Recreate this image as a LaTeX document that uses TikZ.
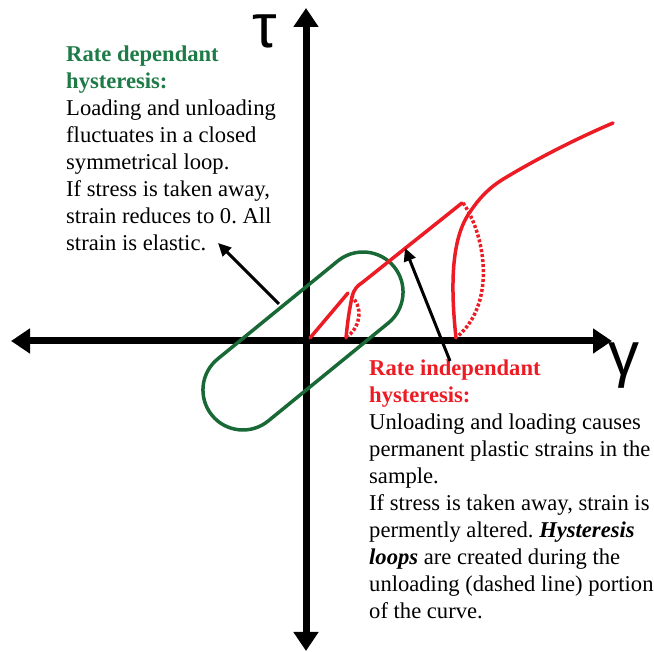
\documentclass[tikz,border=0pt]{standalone}
\usepackage{fontspec}
\setmainfont{Liberation Serif}
\newfontfamily\greekfont{Liberation Sans}
\usetikzlibrary{arrows.meta}
\definecolor{txtgreen}{RGB}{30,122,70}
\definecolor{loopgreen}{RGB}{25,105,55}
\definecolor{curvered}{RGB}{237,28,36}
\newcommand{\gh}[1]{\textbf{\textcolor{txtgreen}{#1}}}
\newcommand{\rh}[1]{\textbf{\textcolor{curvered}{#1}}}
\frenchspacing
\tikzset{
  axisline/.style={line width=7pt, {Triangle[length=19pt,width=24pt]}-{Triangle[length=19pt,width=24pt]}},
  ptr/.style={line width=3pt, -{Triangle[length=13pt,width=12pt]}},
  redsolid/.style={curvered, line width=3.5pt, line cap=round},
  reddash/.style={curvered, line width=3.5pt, dash pattern=on 3pt off 2pt},
  bodytext/.style={inner sep=0pt, anchor=north west, align=left, font=\fontsize{22.6}{27}\selectfont},
  greeklabel/.style={inner sep=0pt, anchor=base, font=\greekfont\fontsize{62}{66}\selectfont}
}
\begin{document}
\begin{tikzpicture}[x=1pt,y=1pt]
\useasboundingbox (0,0) rectangle (654,652);
% axes
\coordinate (ytop) at (306,644);
\coordinate (ybot) at (306,1);
\coordinate (xleft) at (11,311);
\coordinate (xright) at (612,311);
\draw[axisline] (ybot) -- (ytop);
\draw[axisline] (xleft) -- (xright);
\node[greeklabel] (tau) at (265,604) {τ};
\node[greeklabel] (gam) at (624,276) {γ};
% green loop
\node[draw=loopgreen, line width=3.5pt, rectangle, rounded corners=40pt,
      minimum width=235pt, minimum height=80pt, rotate=39.2, inner sep=0pt] (loop) at (303,311) {};
% red curve
\draw[redsolid] (310,314) -- (348,359);
\draw[reddash] (351,356) .. controls (363,346) and (361,326) .. (348,316);
\draw[redsolid] (346,314) .. controls (348,335) and (350,345) .. (352,355)
   .. controls (354,363) and (357,366) .. (363,370) -- (462,449);
\draw[reddash] (463,449) .. controls (484,420) and (498,350) .. (457,315);
\draw[redsolid] (456,314) .. controls (450,370) and (452,415) .. (470,440)
   .. controls (480,455) and (490,465) .. (505,474)
   .. controls (540,495) and (578,514) .. (613,529);
% texts
\node[bodytext] (gtext) at (66,606) {\gh{Rate dependant}\\\gh{hysteresis:}\\
Loading and unloading\\fluctuates in a closed\\symmetrical loop.\\If stress is taken away,\\strain reduces to 0. All\\strain is elastic.};
\node[bodytext] (rtext) at (369,292) {\rh{Rate independant}\\\rh{hysteresis:}\\
Unloading and loading causes\\permanent plastic strains in the\\sample.\\If stress is taken away, strain is\\permently altered. \textbf{\textit{Hysteresis}}\\\textbf{\textit{loops}} are created during the\\unloading (dashed line) portion\\of the curve.};
% pointers
\coordinate (gtail) at (279,348);
\coordinate (gtip) at (218,409);
\coordinate (rtail) at (450,291);
\coordinate (rtip) at (405,404);
\draw[ptr] (gtail) -- (gtip);
\draw[ptr] (rtail) -- (rtip);
\end{tikzpicture}
\end{document}
